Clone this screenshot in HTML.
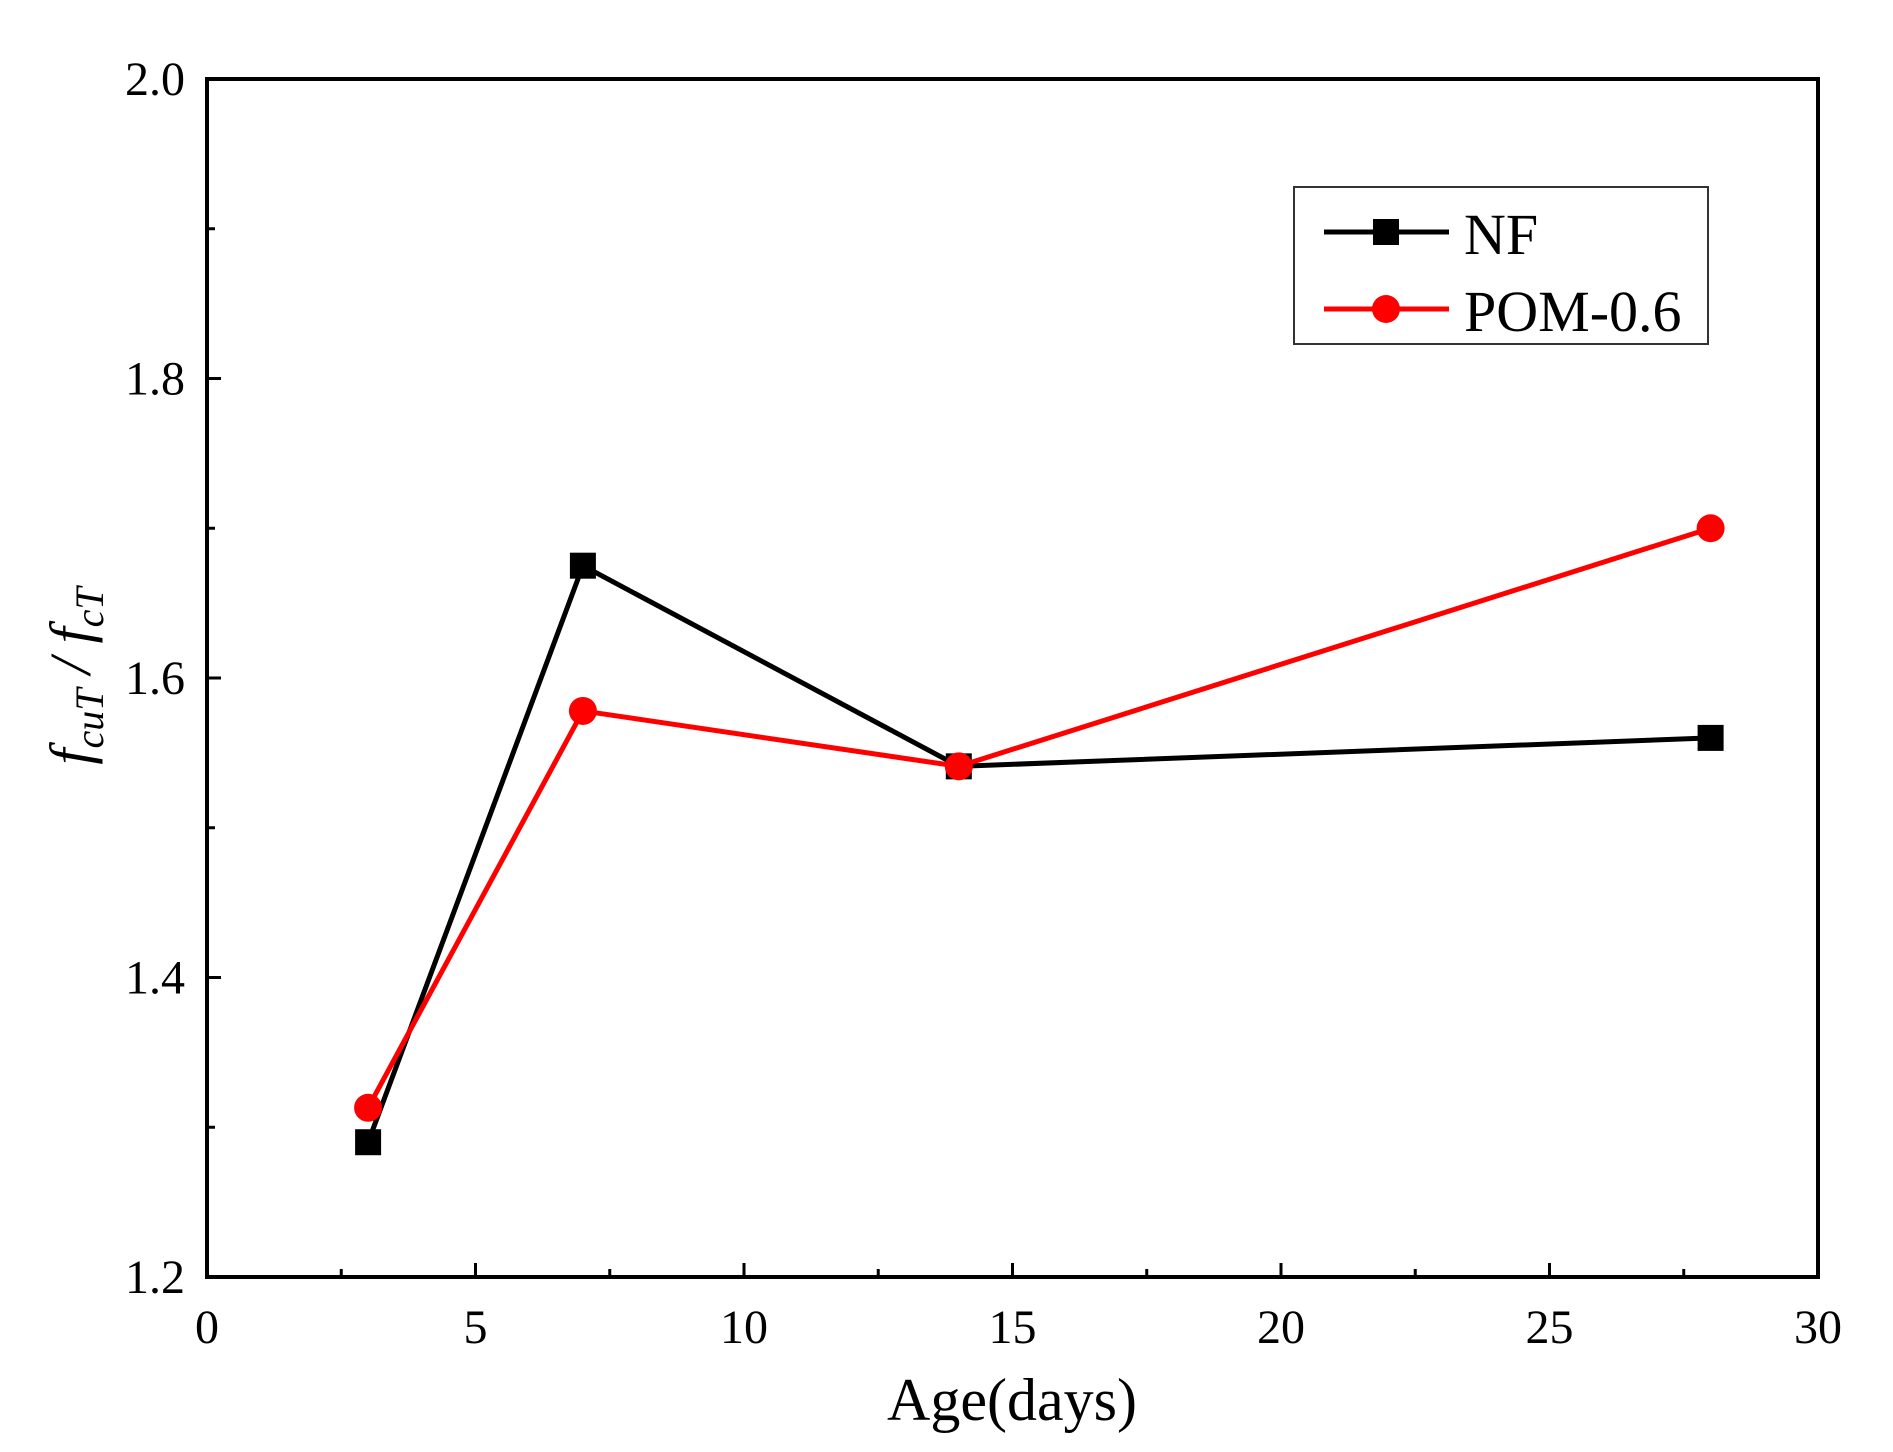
<!DOCTYPE html>
<html><head><meta charset="utf-8"><style>
html,body{margin:0;padding:0;background:#fff;}
svg{display:block;font-family:"Liberation Serif",serif;}
</style></head><body>
<svg id="chart" width="1893" height="1452" viewBox="0 0 1893 1452">
<g id="axes"></g><g id="series"></g>
<g>
<rect x="1294" y="187" width="414" height="157" fill="#fff" stroke="#333" stroke-width="2"/>
<g>
<line x1="1324" y1="232" x2="1449" y2="232" stroke="#000" stroke-width="5"/>
<rect x="1373" y="219" width="26" height="26" fill="#000"/>
<text x="1464" y="254" font-size="58">NF</text></g>
<g>
<line x1="1324" y1="309" x2="1449" y2="309" stroke="#f00" stroke-width="5"/>
<circle cx="1386" cy="309" r="14" fill="#f00"/>
<text x="1464" y="331" font-size="58">POM-0.6</text></g>
</g>
<text x="1012" y="1420" font-size="60" text-anchor="middle">Age(days)</text>
<text transform="translate(90,676) rotate(-90)" font-size="58" font-style="italic" text-anchor="middle">f<tspan font-size="40" dy="13">cuT</tspan><tspan dy="-13"> / f</tspan><tspan font-size="40" dy="13">cT</tspan></text>
</svg>
<script>
const ages=[3,7,14,28];
const nfValues=[1.29,1.675,1.541,1.56];
const pomValues=[1.313,1.578,1.541,1.70];
const xTicks=[0,5,10,15,20,25,30];
const yTicks=[1.2,1.4,1.6,1.8,2.0];
const L=207,R=1818,T=79,B=1277;
const sx=v=>L+(v-0)/(30-0)*(R-L);
const sy=v=>B-(v-1.2)/(2.0-1.2)*(B-T);
const NS="http://www.w3.org/2000/svg";
function mk(tag,attrs,parent){const e=document.createElementNS(NS,tag);for(const k in attrs)e.setAttribute(k,attrs[k]);parent.appendChild(e);return e;}
const axes=document.getElementById('axes'),series=document.getElementById('series');
const frame=mk('rect',{x:L,y:T,width:R-L,height:B-T,fill:'none',stroke:'#000','stroke-width':4},axes);


for(let v=0;v<=30;v+=2.5){const maj=v%5===0;const t=mk('line',{x1:sx(v),x2:sx(v),y1:B,y2:B-(maj?14:8),stroke:'#000','stroke-width':3},axes);

}
xTicks.forEach(v=>{const t=mk('text',{x:sx(v),y:B+66,'font-size':48,'text-anchor':'middle'},axes);t.textContent=v;

});
for(let i=0;i<=8;i++){const v=1.2+i*0.1;const maj=i%2===0;const t=mk('line',{x1:L,x2:L+(maj?14:8),y1:sy(v),y2:sy(v),stroke:'#000','stroke-width':3},axes);

}
yTicks.forEach(v=>{const t=mk('text',{x:L-22,y:sy(v)+16,'font-size':48,'text-anchor':'end'},axes);t.textContent=v.toFixed(1);

});
function draw(vals,color,name,square){
const g=mk('g',{},series);


const pl=mk('polyline',{points:ages.map((a,i)=>sx(a)+','+sy(vals[i])).join(' '),fill:'none',stroke:color,'stroke-width':5},g);


ages.forEach((a,i)=>{let m;if(square)m=mk('rect',{x:sx(a)-13,y:sy(vals[i])-13,width:26,height:26,fill:color},g);
else m=mk('circle',{cx:sx(a),cy:sy(vals[i]),r:14,fill:color},g);

});}
draw(nfValues,'#000','nf',true);
draw(pomValues,'#f00','pom',false);
</script>
</body></html>
